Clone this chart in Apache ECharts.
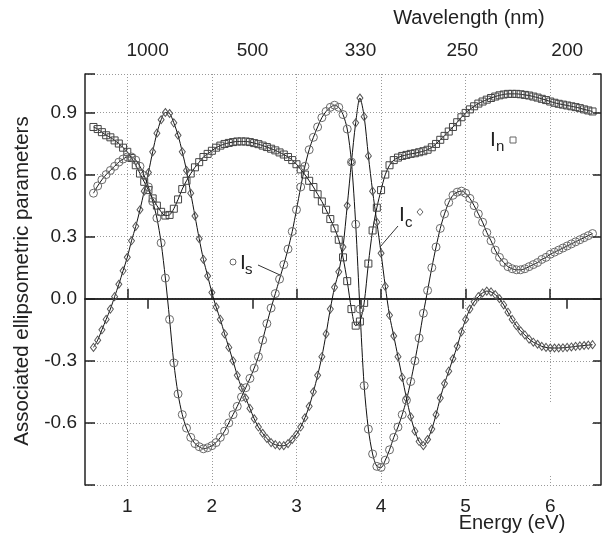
<!DOCTYPE html>
<html>
<head>
<meta charset="utf-8">
<title>Associated ellipsometric parameters</title>
<script src="https://cdn.jsdelivr.net/npm/echarts@6/dist/echarts.min.js"></script>
<style>
  html, body { margin: 0; padding: 0; background: #fff; }
  #chart { width: 605px; height: 536px; }
</style>
</head>
<body>
<div id="chart"></div>
<script>
// photon energy (eV) of the measured points
var energy = [
  0.60,0.65,0.70,0.75,0.80,0.85,0.90,0.95,1.00,1.05,
  1.10,1.15,1.20,1.25,1.30,1.35,1.40,1.45,1.50,1.55,
  1.60,1.65,1.70,1.75,1.80,1.85,1.90,1.95,2.00,2.05,
  2.10,2.15,2.20,2.25,2.30,2.35,2.40,2.45,2.50,2.55,
  2.60,2.65,2.70,2.75,2.80,2.85,2.90,2.95,3.00,3.05,
  3.10,3.15,3.20,3.25,3.30,3.35,3.40,3.45,3.50,3.55,
  3.60,3.65,3.70,3.75,3.80,3.85,3.90,3.95,4.00,4.05,
  4.10,4.15,4.20,4.25,4.30,4.35,4.40,4.45,4.50,4.55,
  4.60,4.65,4.70,4.75,4.80,4.85,4.90,4.95,5.00,5.05,
  5.10,5.15,5.20,5.25,5.30,5.35,5.40,5.45,5.50,5.55,
  5.60,5.65,5.70,5.75,5.80,5.85,5.90,5.95,6.00,6.05,
  6.10,6.15,6.20,6.25,6.30,6.35,6.40,6.45,6.50
];

// I_s (circles)
var valuesIs = [
  0.51,0.545,0.575,0.60,0.62,0.64,0.66,0.675,0.685,0.685,
  0.67,0.64,0.595,0.54,0.47,0.39,0.27,0.10,-0.10,-0.31,
  -0.46,-0.56,-0.625,-0.67,-0.70,-0.715,-0.725,-0.72,-0.71,-0.695,
  -0.67,-0.64,-0.60,-0.56,-0.52,-0.475,-0.43,-0.385,-0.335,-0.28,
  -0.20,-0.12,-0.045,0.025,0.095,0.165,0.24,0.325,0.43,0.54,
  0.64,0.72,0.78,0.83,0.875,0.905,0.925,0.935,0.925,0.89,
  0.82,0.66,0.36,-0.05,-0.42,-0.63,-0.75,-0.81,-0.815,-0.78,
  -0.73,-0.67,-0.62,-0.56,-0.49,-0.40,-0.30,-0.19,-0.07,0.04,
  0.15,0.25,0.34,0.41,0.465,0.50,0.515,0.52,0.51,0.485,
  0.45,0.41,0.37,0.32,0.28,0.235,0.20,0.175,0.155,0.145,
  0.14,0.14,0.145,0.155,0.165,0.175,0.19,0.20,0.215,0.225,
  0.235,0.245,0.255,0.265,0.275,0.285,0.295,0.305,0.315
];

// I_c (diamonds)
var valuesIc = [
  -0.235,-0.20,-0.15,-0.10,-0.05,0.01,0.07,0.135,0.20,0.28,
  0.35,0.43,0.52,0.61,0.71,0.80,0.865,0.90,0.895,0.85,
  0.79,0.71,0.62,0.51,0.40,0.29,0.19,0.11,0.03,-0.04,
  -0.10,-0.17,-0.235,-0.30,-0.37,-0.43,-0.48,-0.53,-0.58,-0.62,
  -0.65,-0.675,-0.695,-0.705,-0.71,-0.71,-0.70,-0.68,-0.655,-0.62,
  -0.575,-0.52,-0.45,-0.37,-0.28,-0.17,-0.05,0.055,0.13,0.25,
  0.45,0.66,0.85,0.97,0.88,0.69,0.52,0.37,0.22,0.06,
  -0.08,-0.18,-0.28,-0.38,-0.48,-0.57,-0.64,-0.69,-0.71,-0.68,
  -0.63,-0.56,-0.48,-0.41,-0.35,-0.29,-0.23,-0.16,-0.10,-0.05,
  -0.015,0.01,0.028,0.037,0.033,0.02,0.0,-0.03,-0.065,-0.10,
  -0.13,-0.155,-0.175,-0.195,-0.21,-0.22,-0.23,-0.235,-0.238,-0.238,
  -0.238,-0.237,-0.235,-0.233,-0.23,-0.228,-0.226,-0.224,-0.222
];

// I_n (squares)
var valuesIn = [
  0.83,0.82,0.805,0.79,0.78,0.765,0.75,0.73,0.71,0.68,
  0.645,0.605,0.565,0.525,0.485,0.45,0.42,0.402,0.405,0.435,
  0.48,0.53,0.57,0.605,0.635,0.66,0.685,0.70,0.715,0.73,
  0.74,0.748,0.753,0.757,0.76,0.76,0.76,0.757,0.752,0.747,
  0.74,0.733,0.725,0.717,0.707,0.697,0.685,0.67,0.65,0.625,
  0.60,0.57,0.54,0.505,0.47,0.43,0.385,0.34,0.285,0.20,
  0.085,-0.05,-0.13,-0.11,-0.02,0.17,0.33,0.44,0.525,0.60,
  0.645,0.67,0.682,0.69,0.695,0.70,0.703,0.708,0.713,0.72,
  0.732,0.748,0.768,0.787,0.808,0.83,0.853,0.877,0.898,0.915,
  0.93,0.943,0.953,0.962,0.97,0.977,0.983,0.987,0.99,0.99,
  0.99,0.988,0.985,0.982,0.977,0.972,0.966,0.96,0.953,0.947,
  0.942,0.938,0.934,0.93,0.926,0.921,0.915,0.91,0.905
];

var energyTicks = [1, 2, 3, 4, 5, 6];
var wavelengthTicks = [1000, 500, 330, 250, 200];
var yTicks = [-0.6, -0.3, 0.0, 0.3, 0.6, 0.9];

var wavelengthEnergy = wavelengthTicks.map(function (l) { return 1240 / l; });

var FONT = 'Liberation Sans';
var INK = '#222';

function pairs(vals) {
    return energy.map(function (e, i) { return [e, vals[i]]; });
}

function curve(name, vals, symbol, size, stroke) {
    return {
        name: name,
        type: 'line',
        data: pairs(vals),
        smooth: 0.3,
        showAllSymbol: true,
        symbol: symbol,
        symbolSize: size,
        lineStyle: { color: '#111', width: 1 },
        itemStyle: { color: 'rgba(0,0,0,0)', borderColor: stroke, borderWidth: 1 },
        emphasis: { disabled: true },
        z: 3
    };
}

var chart = echarts.init(document.getElementById('chart'), null, { renderer: 'canvas' });

var tickStyle = { color: INK, width: 1.5 };
var dotted = { color: '#999', width: 1, type: [1, 2] };

var option = {
    animation: false,
    backgroundColor: '#fff',
    textStyle: { fontFamily: FONT },
    grid: { left: 85, right: 4, top: 74, bottom: 51 },
    xAxis: [{
        type: 'value', position: 'bottom', min: 0.5, max: 6.6,
        axisLine: { show: true, lineStyle: tickStyle },
        axisTick: { inside: true, length: 10, lineStyle: tickStyle, customValues: energyTicks },
        axisLabel: { customValues: energyTicks, margin: 12, color: INK, fontSize: 19, fontFamily: FONT },
        splitLine: { show: true, lineStyle: dotted }
    }, {
        type: 'value', position: 'top', min: 0.5, max: 6.6,
        axisLine: { show: true, lineStyle: tickStyle },
        axisTick: { inside: true, length: 10, lineStyle: tickStyle, customValues: wavelengthEnergy },
        axisLabel: {
            customValues: wavelengthEnergy, margin: 14, color: INK, fontSize: 19, fontFamily: FONT,
            formatter: function (v) {
                for (var i = 0; i < wavelengthEnergy.length; i++) {
                    if (Math.abs(wavelengthEnergy[i] - v) < 1e-6) return String(wavelengthTicks[i]);
                }
                return '';
            }
        },
        splitLine: { show: false }
    }],
    yAxis: [{
        type: 'value', position: 'left', min: -0.9, max: 1.086, interval: 0.3,
        axisLine: { show: true, lineStyle: tickStyle },
        axisTick: { inside: true, length: 10, lineStyle: tickStyle },
        axisLabel: {
            margin: 8, color: INK, fontSize: 19, fontFamily: FONT,
            formatter: function (v) {
                for (var i = 0; i < yTicks.length; i++) {
                    if (Math.abs(yTicks[i] - v) < 1e-6) return yTicks[i].toFixed(1);
                }
                return '';
            }
        },
        splitLine: { show: true, lineStyle: dotted }
    }, {
        type: 'value', position: 'right', min: -0.9, max: 1.086, interval: 0.3, z: 4,
        axisLine: { show: true, lineStyle: tickStyle },
        axisTick: { inside: true, length: 8, lineStyle: tickStyle },
        axisLabel: { show: false },
        splitLine: { show: false }
    }],
    series: [
        curve('In', valuesIn, 'rect', 7, '#444'),
        curve('Ic', valuesIc, 'diamond', [6, 8], '#555'),
        curve('Is', valuesIs, 'circle', 8, '#6a6a6a')
    ],
    graphic: { elements: [
        // blank patch in the lower right corner, as in the source figure
        { type: 'rect', z: 1, silent: true, shape: { x: 500, y: 403, width: 90, height: 71 }, style: { fill: '#fff' } },

        { type: 'text', z: 10, x: 469, y: 18,
          style: { text: 'Wavelength (nm)', font: '20px "' + FONT + '"', fill: INK, align: 'center', verticalAlign: 'middle' } },
        { type: 'text', z: 10, x: 512, y: 523,
          style: { text: 'Energy (eV)', font: '20px "' + FONT + '"', fill: INK, align: 'center', verticalAlign: 'middle' } },
        { type: 'text', z: 10, x: 22, y: 281, rotation: Math.PI / 2,
          style: { text: 'Associated ellipsometric parameters', font: '20.5px "' + FONT + '"', fill: INK, align: 'center', verticalAlign: 'middle' } },

        // I_s label
        { type: 'circle', z: 10, shape: { cx: 233, cy: 262, r: 3 }, style: { fill: 'none', stroke: '#666', lineWidth: 1 } },
        { type: 'text', z: 10, x: 240, y: 263, style: { text: 'I', font: '21px "' + FONT + '"', fill: INK, verticalAlign: 'middle' } },
        { type: 'text', z: 10, x: 245, y: 270, style: { text: 's', font: '15px "' + FONT + '"', fill: INK, verticalAlign: 'middle' } },
        { type: 'line', z: 10, shape: { x1: 258, y1: 265, x2: 280, y2: 275 }, style: { stroke: '#333', lineWidth: 1 } },

        // I_c label
        { type: 'text', z: 10, x: 399, y: 215, style: { text: 'I', font: '21px "' + FONT + '"', fill: INK, verticalAlign: 'middle' } },
        { type: 'text', z: 10, x: 405, y: 223, style: { text: 'c', font: '15px "' + FONT + '"', fill: INK, verticalAlign: 'middle' } },
        { type: 'polygon', z: 10, shape: { points: [[420, 208.5], [423, 212], [420, 215.5], [417, 212]] }, style: { fill: 'none', stroke: '#666', lineWidth: 1 } },
        { type: 'line', z: 10, shape: { x1: 398, y1: 226, x2: 380, y2: 247 }, style: { stroke: '#333', lineWidth: 1 } },

        // I_n label
        { type: 'text', z: 10, x: 490, y: 140, style: { text: 'I', font: '21px "' + FONT + '"', fill: INK, verticalAlign: 'middle' } },
        { type: 'text', z: 10, x: 496, y: 147, style: { text: 'n', font: '15px "' + FONT + '"', fill: INK, verticalAlign: 'middle' } },
        { type: 'rect', z: 10, shape: { x: 510, y: 137, width: 6, height: 6 }, style: { fill: 'none', stroke: '#666', lineWidth: 1 } }
    ] }
};

chart.setOption(option);
</script>
</body>
</html>
